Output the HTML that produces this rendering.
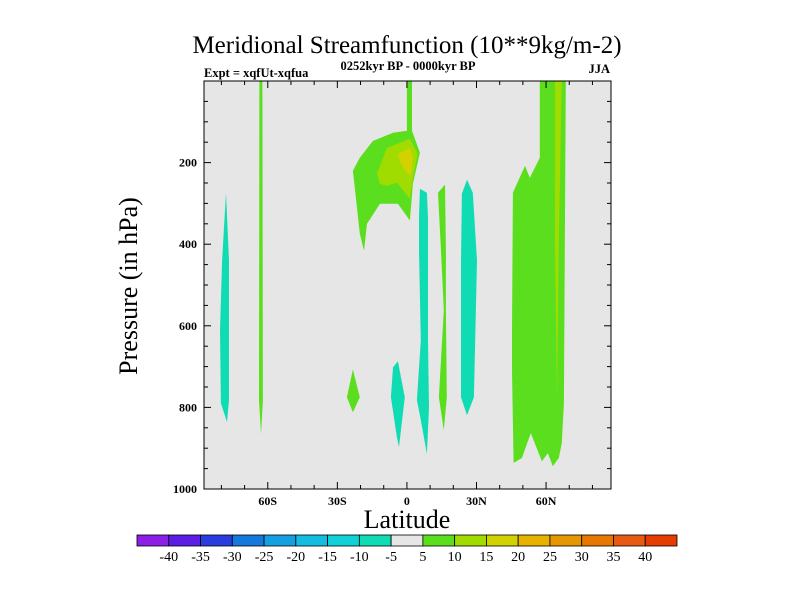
<!DOCTYPE html>
<html><head><meta charset="utf-8">
<style>
html,body{margin:0;padding:0;background:#fff;}
svg{display:block;font-family:"Liberation Serif",serif;}
</style></head>
<body>
<svg id="chart" width="800" height="600" viewBox="0 0 800 600" xmlns="http://www.w3.org/2000/svg">
<text x="407" y="53" font-size="25" text-anchor="middle">Meridional Streamfunction (10**9kg/m-2)</text>
<text x="204" y="77" font-size="12.5" font-weight="bold">Expt = xqfUt-xqfua</text>
<text x="408" y="70" font-size="12.5" font-weight="bold" text-anchor="middle">0252kyr BP - 0000kyr BP</text>
<text x="610" y="73" font-size="12.5" font-weight="bold" text-anchor="end">JJA</text>
<text transform="translate(137,286) rotate(-90)" font-size="26" text-anchor="middle">Pressure (in hPa)</text>
<text x="407" y="528" font-size="26" text-anchor="middle">Latitude</text>
<rect x="204" y="81" width="407" height="408" fill="#e6e6e6"/>
<g id="fills"></g>
<g id="axes"></g>
<rect x="204" y="81" width="407" height="408" fill="none" stroke="#000" stroke-width="1"/>
<g id="colorbar"></g>
</svg>
<script>
const xTickLabels = ["60S","30S","0","30N","60N"];
const xTickValues = [-60,-30,0,30,60];
const yTickValues = [200,400,600,800,1000];
const cbLabels = [-40,-35,-30,-25,-20,-15,-10,-5,5,10,15,20,25,30,35,40];
const cbColors = ["#8c1ee6","#5a1ee6","#2a3ce0","#1478dc","#14a0e0","#14bce0","#10d0d8","#10dcb4","#e6e6e6","#5ade1e","#a0dc00","#d2d200","#e6b400","#e69600","#e67800","#e65a14","#e63c00"];
const cyanFill = "#10dcb4", greenFill = "#5ade1e", lgreenFill = "#a0dc00", yellowFill = "#d2d200";
const regionNames = ["cyan-80s","green-63s","green-equator-upper","lgreen-equator-upper","yellow-equator-upper","green-23s","cyan-5s","cyan-7n","green-15n","cyan-26n","green-45n-70n","lgreen-65n"];
const regionColors = [cyanFill,greenFill,greenFill,lgreenFill,yellowFill,greenFill,cyanFill,cyanFill,greenFill,cyanFill,greenFill,lgreenFill];
const region0 = [[-78,274],[-76.7,440],[-76.7,782],[-77.6,836],[-80.2,790],[-80.6,611],[-79.7,440]];
const region1 = [[-63.6,0],[-62.3,0],[-62.1,782],[-62.9,866],[-63.8,782]];
const region2 = [[0,0],[2.2,0],[2.2,122],[5.6,176],[2.6,252],[1.3,342],[-3.9,301],[-11.6,301],[-17.2,350],[-18.5,416],[-20.3,374],[-23.3,220],[-20.3,188],[-14.7,147],[-6,127],[0,122]];
const region3 = [[-12.9,227],[-8.6,164],[1.3,142],[4.7,178],[2.6,237],[1.3,289],[-4.3,249],[-8.6,257],[-11.6,252]];
const region4 = [[-3.9,178],[1.3,164],[2.6,188],[1.7,232],[-0.9,220],[-3.0,196]];
const region5 = [[-25.9,775],[-23.3,707],[-20.3,775],[-23.3,812]];
const region6 = [[-6.9,775],[-6.0,702],[-3.9,687],[-0.9,775],[-3.4,897],[-4.3,873]];
const region7 = [[5.6,264],[8.6,274],[9.1,335],[9.1,636],[9.5,800],[8.6,914],[6,831],[4.3,782],[6,636],[5.2,416],[5.2,330]];
const region8 = [[13.4,274],[16.4,254],[16.8,416],[16.8,562],[17.2,775],[15.9,856],[13.8,775],[15.9,562],[14.7,416]];
const region9 = [[23.7,276],[25.9,242],[28.4,274],[30.2,440],[28.9,775],[25.9,819],[23.3,775],[23.3,440]];
const region10 = [[45.7,274],[50.9,208],[53,237],[57.3,188],[57.3,0],[68.5,0],[67.7,790],[66.8,888],[65.5,924],[62.9,944],[60.8,912],[58.2,932],[53.4,863],[49.6,924],[46.0,936],[45.3,709],[45.3,611]];
const region11 = [[63.8,0],[66.8,0],[65.5,400],[64.7,783],[63.8,400]];
const regions = [region0,region1,region2,region3,region4,region5,region6,region7,region8,region9,region10,region11];

const NS = "http://www.w3.org/2000/svg";
const PL = 204, PR = 611, PT = 81, PB = 489;
const LAT0 = -87.5, LAT1 = 88, P0 = 0, P1 = 1000;
function X(lat){ return PL + (lat - LAT0) / (LAT1 - LAT0) * (PR - PL); }
function Y(p){ return PT + (p - P0) / (P1 - P0) * (PB - PT); }
function mk(tag, attrs, parent){ const e = document.createElementNS(NS, tag); for (const k in attrs) e.setAttribute(k, attrs[k]); parent.appendChild(e); return e; }

const fills = document.getElementById('fills');
regions.forEach((r, i) => {
  const pg = mk('polygon', {points: r.map(d => X(d[0]).toFixed(1) + ',' + Y(d[1]).toFixed(1)).join(' '), fill: regionColors[i]}, fills);
  
  
});

const axes = document.getElementById('axes');
// x ticks every 10 deg, bottom and top
for (let lat = -80; lat <= 80; lat += 10) {
  const major = lat % 30 === 0;
  const len = major ? 7 : 4;
  const x = X(lat);
  const t1 = mk('line', {x1:x, y1:PB, x2:x, y2:PB-len, stroke:'#000', 'stroke-width':1}, axes);
  
  
  const t2 = mk('line', {x1:x, y1:PT, x2:x, y2:PT+len, stroke:'#000', 'stroke-width':1}, axes);
  
  
}
xTickValues.forEach((v, i) => {
  const t = mk('text', {x: X(v), y: 505, 'font-size': 12, 'font-weight': 'bold', 'text-anchor': 'middle'}, axes);
  t.textContent = xTickLabels[i];
  
  
});
// y ticks every 50 hPa
for (let p = 50; p < 1000; p += 50) {
  const major = p % 200 === 0;
  const len = major ? 7 : 4;
  const y = Y(p);
  const t1 = mk('line', {x1:PL, y1:y, x2:PL+len, y2:y, stroke:'#000', 'stroke-width':1}, axes);
  
  
  const t2 = mk('line', {x1:PR, y1:y, x2:PR-len, y2:y, stroke:'#000', 'stroke-width':1}, axes);
  
  
}
yTickValues.forEach(v => {
  const t = mk('text', {x: 197, y: Y(v) + 4, 'font-size': 12, 'font-weight': 'bold', 'text-anchor': 'end'}, axes);
  t.textContent = String(v);
  
  
});

// colorbar
const cb = document.getElementById('colorbar');
const CBL = 137, CBR = 677, CBT = 535, CBH = 11;
const bw = (CBR - CBL) / cbColors.length;
cbColors.forEach((c, i) => {
  const r = mk('rect', {x: CBL + i*bw, y: CBT, width: bw, height: CBH, fill: c, stroke: '#000', 'stroke-width': 0.8}, cb);
  
  
});
cbLabels.forEach((v, i) => {
  const t = mk('text', {x: CBL + (i+1)*bw, y: 561, 'font-size': 14, 'text-anchor': 'middle'}, cb);
  t.textContent = String(v);
  
  
});
</script>
</body></html>
